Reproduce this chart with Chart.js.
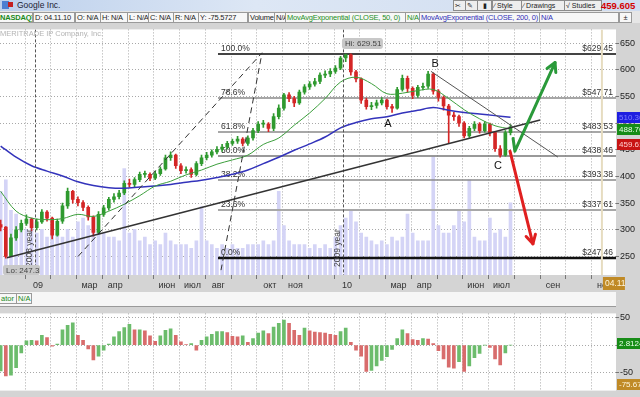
<!DOCTYPE html>
<html>
<head>
<meta charset="utf-8">
<script src="https://cdn.jsdelivr.net/npm/chart.js@4.4.0/dist/chart.umd.min.js"></script>
<style>
  body { margin: 0; width: 640px; height: 397px; overflow: hidden; background: #d4d4d4;
         font-family: "Liberation Sans", Arial, sans-serif; position: relative; }
  #title { position: absolute; left: 0; top: 0; width: 640px; height: 11px;
           background: linear-gradient(to right, #bcd0ec, #dde7f5 40%, #cfdcf0); font-size: 8.5px; line-height: 11px; }
  #title span, #hdr span, #oschdr span { position: absolute; white-space: nowrap; }
  .btn { top: 0; height: 9px; line-height: 9px; font-size: 7px; border: 1px solid #8c8c8c; background: #eeeeee;
         padding: 0 1px; color: #222; overflow: hidden; }
  #hdr { position: absolute; left: 0; top: 11px; width: 640px; height: 12px; background: #e6e6e6;
         font-size: 7.5px; letter-spacing: -0.2px; }
  .c { top: 1px; height: 9px; line-height: 9px; border: 1px solid #9a9a9a; background: #f7f7f7; padding: 0 1px;
       color: #222; overflow: hidden; }
  #copy { position: absolute; left: 0; top: 29px; font-size: 7.5px; color: #b4b4b4; white-space: nowrap; }
  #main { position: absolute; left: 0; top: 23px; }
  #oschdr { position: absolute; left: 0; top: 292px; width: 616px; height: 14px; background: #f6f6f6;
            border-bottom: 1px solid #9a9a9a; font-size: 7.5px; }
  #osc { position: absolute; left: 0; top: 307px; }
</style>
</head>
<body>
<div id="title">
  <span style="left:2px;top:1px;width:7px;height:8px;background:#4c7fd2"></span>
  <span style="left:8px;top:2px;width:5px;height:5px;background:#c42020"></span>
  <span style="left:17px;top:0;color:#223">Google Inc.</span>
  <span class="btn" style="left:453px;width:9px">&#9986;</span>
  <span class="btn" style="left:465px;width:9px">&#9998;</span>
  <span class="btn" style="left:477px;width:11px;text-align:center">&#9646;</span>
  <span class="btn" style="left:492px;width:26px">&#8725; Style</span>
  <span class="btn" style="left:521px;width:40px">&#8725; Drawings</span>
  <span class="btn" style="left:564px;width:34px">&#8730; Studies</span>
  <span style="left:601px;top:0;color:#d40000;font-weight:bold;font-size:9.5px">459.605</span>
</div>
<div id="hdr">
  <span class="c" style="left:-2px;width:31px;color:#1a8a1a;font-weight:bold">NASDAQ]</span>
  <span class="c" style="left:33px;width:38px">D: 04.11.10</span>
  <span class="c" style="left:75px;width:22px">O: N/A</span>
  <span class="c" style="left:100px;width:24px">H: N/A</span>
  <span class="c" style="left:127px;width:19px">L: N/A</span>
  <span class="c" style="left:148px;width:22px">C: N/A</span>
  <span class="c" style="left:173px;width:22px">R: N/A</span>
  <span class="c" style="left:198px;width:46px">Y: -75.5727</span>
  <span class="c" style="left:248px;width:23px">Volume</span>
  <span class="c" style="left:274px;width:8px">N/A</span>
  <span class="c" style="left:285px;width:117px;color:#239023">MovAvgExponential (CLOSE, 50, 0)</span>
  <span class="c" style="left:405px;width:11px;color:#239023">N/A</span>
  <span class="c" style="left:419px;width:117px;color:#3030b8">MovAvgExponential (CLOSE, 200, 0)</span>
  <span class="c" style="left:539px;width:76px;color:#3030b8">N/A</span>
  <span class="c" style="left:619px;width:9px;text-align:center">&#177;</span>
</div>
<canvas id="main" width="640" height="269"></canvas>
<div id="copy">MERITRADE IP Company, Inc.</div>
<div id="oschdr">
  <span class="c" style="left:-1px;width:14px;color:#1a8a1a">ator</span>
  <span class="c" style="left:16px;width:12px;color:#1a8a1a">N/A</span>
</div>
<canvas id="osc" width="640" height="90"></canvas>
<script>
// time axis: months counted from Jan 2009, one point every 0.2 month
const firstMonth = -1.45;
const monthStep = 0.2;
const xAt = i => firstMonth + i * monthStep;

const closes = [
  305, 250, 285, 300, 312, 320, 304, 315, 333, 322,
  290, 316, 345, 372, 357, 351, 342, 324, 295, 329,
  341, 357, 362, 369, 387, 385, 394, 404, 404, 397,
  405, 414, 435, 440, 420, 411, 413, 404, 424, 435,
  440, 446, 451, 455, 462, 466, 470, 462, 472, 486,
  498, 498, 490, 512, 528, 553, 546, 538, 558, 568,
  573, 578, 590, 592, 597, 603, 622, 628, 596, 583,
  543, 531, 533, 538, 543, 531, 528, 563, 584, 565,
  552, 567, 569, 592, 560, 548, 532, 515, 512, 500,
  476, 490, 498, 486, 498, 482, 452, 440, 482, 493
];
const highs = [
  318, 306, 292, 306, 318, 328, 322, 320, 338, 336,
  324, 320, 350, 378, 374, 362, 355, 345, 326, 334,
  346, 361, 368, 374, 392, 395, 398, 408, 410, 407,
  410, 418, 440, 446, 442, 424, 418, 416, 428, 440,
  445, 450, 456, 460, 466, 470, 475, 473, 476, 490,
  503, 505, 501, 518, 534, 556, 557, 550, 562, 572,
  578, 584, 594, 598, 602, 608, 625, 629.5, 630, 599,
  585, 547, 539, 543, 548, 545, 535, 567, 590, 588,
  568, 571, 575, 597, 594, 563, 551, 535, 520, 515,
  503, 494, 503, 501, 503, 500, 484, 458, 486, 497
];
const lows = [
  298, 247, 262, 280, 296, 308, 298, 300, 312, 316,
  283, 288, 312, 340, 350, 345, 336, 318, 288, 292,
  325, 337, 352, 358, 366, 380, 380, 390, 398, 392,
  394, 402, 412, 430, 415, 405, 406, 398, 401, 420,
  431, 436, 442, 447, 451, 458, 462, 457, 458, 468,
  482, 492, 484, 486, 508, 524, 540, 531, 535, 554,
  563, 569, 574, 585, 587, 593, 600, 615, 590, 577,
  537, 526, 525, 528, 534, 526, 520, 526, 560, 558,
  546, 548, 562, 565, 554, 541, 524, 462, 505, 494,
  472, 473, 486, 481, 483, 476, 447, 436, 438, 478
];
const firstOpen = 310;

const volume = [
  11, 12.5, 8.5, 8, 6.5, 6, 7.5, 5.5, 6, 5,
  6.5, 5.5, 5, 6, 5, 7, 7.5, 6.5, 7.5, 6,
  5.5, 5, 5, 4.5, 14, 5.5, 6, 4.5, 5, 4,
  4.5, 4, 5.5, 4.5, 4, 4, 4, 3.5, 4.5, 9,
  4.5, 4, 3.5, 4, 3.5, 4, 3.5, 3.5, 4, 4,
  4, 4.5, 4, 4.5, 11, 6.5, 4.5, 4, 4, 4,
  3.5, 4, 3.5, 4, 3.5, 5, 6.5, 7.5, 8.5, 7,
  5.5, 5, 4.5, 4, 4.5, 4, 5, 4.5, 5, 8,
  5.5, 4.5, 4.5, 4.5, 15.5, 6.5, 5.5, 5.5, 6.5, 8.5,
  7, 12.5, 5, 4.5, 4.5, 7.5, 5.5, 6, 5, 9.5
];

// moving averages, read every 3rd point
const ema50 = [372, 335, 322, 319, 321, 329, 325, 335, 348, 364, 382, 391, 403, 412, 423, 431, 440,
               460, 472, 496, 519, 546, 577, 586, 574, 555, 556, 561, 563, 546, 525, 508, 495, 489];
const ema200 = [457, 436, 420, 410, 401, 390, 383, 379, 378, 380, 382, 385, 389, 393, 398, 404, 412,
                424, 436, 449, 461, 474, 491, 501, 508, 512, 519, 524, 529, 524, 520, 517, 514, 511];

const oscillator = [
  -47, -56, -55, -41, -14, 8, 9, 8, 18, 14,
  -2, 2, 28, 36, 41, 18, 9, -7, -27, -20,
  -9, 2, 15, 25, 32, 38, 28, 28, 26, 17,
  7, 17, 27, 30, 18, 6, 1, 3, -9, 9,
  15, 20, 25, 25, 23, 16, 15, 17, 5, 12,
  22, 26, 21, 33, 40, 46, 40, 27, 18, 31,
  26, 24, 23, 22, 20, 18, 25, 31, 5, -9,
  -20, -48, -46, -38, -28, -21, -8, 12, 28, 21,
  10, 9, 12, 11, 3, -10, -25, -40, -42, -30,
  -48, -38, -23, -15, 0, -4, -25, -36, -14, 0
];

// month ticks from Dec 2008 (-1) to Nov 2010 (22)
const monthLabels = ['', '09', '', 'мар', 'апр', '', 'июн', 'июл', 'авг', '', 'окт', 'ноя',
                     '', '10', '', 'мар', 'апр', '', 'июн', 'июл', '', 'сен', '', 'ноя'];
const priceTicks = [250, 300, 350, 400, 450, 500, 550, 600, 650];
const oscTicks = [50, 0, -50];

const fibLevels = [629.45, 547.71, 483.53, 438.46, 393.38, 337.61, 247.46];
const fibNames = ['100.0%', '78.6%', '61.8%', '50.0%', '38.2%', '23.6%', '0.0%'];
const fibStartMonth = 6.99;

const xMin = -1.476, xMax = 22.447;
const GREEN = '#2f9a2f', RED = '#d42626';

const opens = closes.map((c, i) => i === 0 ? firstOpen : closes[i - 1]);
const candleColors = closes.map((c, i) => c >= opens[i] ? GREEN : RED);
const oscColors = oscillator.map((v, i) => (i === 0 || v >= oscillator[i - 1]) ? '#6cbc6c' : '#d86c6c');

function line(ctx, pts) {
  ctx.beginPath();
  pts.forEach((p, i) => i ? ctx.lineTo(p[0], p[1]) : ctx.moveTo(p[0], p[1]));
  ctx.stroke();
}

function arrow(ctx, pts, color) {
  ctx.strokeStyle = color;
  ctx.lineWidth = 3;
  ctx.lineCap = 'round';
  ctx.lineJoin = 'round';
  line(ctx, pts);
  const a = pts[pts.length - 2], b = pts[pts.length - 1];
  const ang = Math.atan2(b[1] - a[1], b[0] - a[0]);
  const h = 10;
  line(ctx, [[b[0] - h * Math.cos(ang - 0.5), b[1] - h * Math.sin(ang - 0.5)], b,
             [b[0] - h * Math.cos(ang + 0.5), b[1] - h * Math.sin(ang + 0.5)]]);
}

function tag(ctx, x, y, w, text, bg, fg) {
  ctx.fillStyle = bg;
  ctx.fillRect(x, Math.round(y - 5.5), w, 11);
  ctx.fillStyle = fg;
  ctx.font = '8px "Liberation Sans"';
  ctx.textAlign = 'left';
  ctx.textBaseline = 'middle';
  ctx.fillText(text, x + 2, y + 0.5);
}

const mainDecor = {
  id: 'mainDecor',
  beforeDraw(chart) {
    const { ctx, chartArea: a } = chart;
    ctx.save();
    ctx.fillStyle = '#d4d4d4';
    ctx.fillRect(0, 0, chart.width, chart.height);
    ctx.fillStyle = '#ffffff';
    ctx.fillRect(a.left, a.top, a.right - a.left, a.bottom - a.top);
    ctx.restore();
  },
  afterDatasetDraw(chart, args) {
    if (args.index !== 4) return;   // right after the volume bars
    const { ctx, chartArea: a, scales: { x, y } } = chart;
    ctx.save();
    const x0 = x.getPixelForValue(fibStartMonth);
    const fibColors = ['#444', '#8a8a8a', '#8a8a8a', '#777', '#8a8a8a', '#a8a8a8', '#111'];
    const fibWidths = [2, 1.5, 1.5, 1.5, 1.5, 2, 2.5];
    fibLevels.forEach((lvl, j) => {
      const py = Math.round(y.getPixelForValue(lvl));
      ctx.strokeStyle = fibColors[j];
      ctx.lineWidth = fibWidths[j];
      line(ctx, [[x0, py], [a.right, py]]);
      ctx.fillStyle = '#333';
      ctx.font = '8.5px "Liberation Sans"';
      ctx.textBaseline = 'bottom';
      ctx.textAlign = 'left';
      ctx.fillText(fibNames[j], x0 + 3, py - 1);
      ctx.textAlign = 'right';
      ctx.fillText('$' + lvl.toFixed(2), a.right - 3, py - 1);
    });
    ctx.restore();
  },
  afterDatasetsDraw(chart) {
    const { ctx, chartArea: a, scales: { x, y } } = chart;
    const P = (m, v) => [x.getPixelForValue(m), y.getPixelForValue(v)];
    ctx.save();
    ctx.beginPath();
    ctx.rect(a.left, a.top, a.right - a.left, a.bottom - a.top);
    ctx.clip();

    // year separators
    ctx.strokeStyle = '#555';
    ctx.lineWidth = 1;
    ctx.setLineDash([3, 2]);
    [[-0.12, '2008 year'], [11.84, '2009 year']].forEach(([m, t]) => {
      const px = Math.round(x.getPixelForValue(m)) + 0.5;
      line(ctx, [[px, a.top], [px, a.bottom]]);
      ctx.save();
      ctx.translate(px - 2, a.bottom - 8);
      ctx.rotate(-Math.PI / 2);
      ctx.fillStyle = '#444';
      ctx.font = '8.5px "Liberation Sans"';
      ctx.textAlign = 'left';
      ctx.textBaseline = 'bottom';
      ctx.fillText(t, 0, 0);
      ctx.restore();
    });

    // fibonacci fan legs
    ctx.strokeStyle = '#333';
    ctx.setLineDash([6, 4]);
    line(ctx, [P(1.553, 250), P(8.70, 631.7), P(7.107, 224.4)]);
    ctx.setLineDash([]);

    // trend lines
    ctx.strokeStyle = '#333';
    ctx.lineWidth = 1.5;
    line(ctx, [P(-1.204, 247.5), P(19.5, 505.7)]);
    ctx.strokeStyle = '#555';
    ctx.lineWidth = 1;
    line(ctx, [P(15.26, 597), P(20.19, 436.3)]);

    // cursor
    ctx.strokeStyle = '#e6dcc0';
    ctx.lineWidth = 2;
    const cx = x.getPixelForValue(21.9);
    line(ctx, [[cx, a.top], [cx, a.bottom]]);

    // projection arrows
    arrow(ctx, [P(18.45, 471), P(18.52, 447.3), P(20.08, 613.5)], '#2a9a3a');
    arrow(ctx, [P(18.33, 447.3), P(19.22, 273.7)], '#e02020');

    // wave labels
    ctx.fillStyle = '#111';
    ctx.font = '11px "Liberation Sans"';
    ctx.textAlign = 'center';
    ctx.textBaseline = 'middle';
    [['A', 13.59, 498], ['B', 15.42, 611.6], ['C', 17.86, 420]].forEach(([t, m, v]) => {
      const p = P(m, v);
      ctx.fillText(t, p[0], p[1]);
    });

    // hi / lo callouts
    ctx.font = '8px "Liberation Sans"';
    ctx.textAlign = 'left';
    const hi = P(11.92, 629.51);
    ctx.fillStyle = '#c8c8c8';
    ctx.beginPath();
    ctx.roundRect(hi[0] - 3, hi[1] - 16, 41, 11, 3);
    ctx.fill();
    ctx.fillStyle = '#444';
    ctx.fillText('Hi: 629.51', hi[0], hi[1] - 10);
    const lo = P(-1.204, 247.3);
    ctx.fillStyle = '#c8c8c8';
    ctx.beginPath();
    ctx.roundRect(lo[0] - 4, lo[1] + 7, 37, 10, 2);
    ctx.fill();
    ctx.fillStyle = '#444';
    ctx.fillText('Lo: 247.3', lo[0] - 1, lo[1] + 12.5);
    ctx.restore();
  },
  afterDraw(chart) {
    const { ctx, chartArea: a, scales: { y, x } } = chart;
    ctx.save();
    tag(ctx, a.right + 1, y.getPixelForValue(510.3), 23, '510.36', '#1e1ee0', '#7d7dff');
    tag(ctx, a.right + 1, y.getPixelForValue(488.76), 23, '488.76', '#178c17', '#e8ffe8');
    tag(ctx, a.right + 1, y.getPixelForValue(459.61), 23, '459.61', '#c81414', '#ffd0d0');
    const cx = x.getPixelForValue(21.9);
    ctx.fillStyle = '#c08a26';
    ctx.fillRect(cx + 1, a.bottom + 2, 22, 13);
    ctx.fillStyle = '#fff6dd';
    ctx.font = '8.5px "Liberation Sans"';
    ctx.textBaseline = 'middle';
    ctx.fillText('04.11', cx + 3, a.bottom + 9);
    ctx.restore();
  }
};

const monthScale = {
  type: 'linear', min: xMin, max: xMax, offset: false,
  afterBuildTicks: s => { s.ticks = monthLabels.map((l, j) => ({ value: j - 1 })); }
};

new Chart(document.getElementById('main'), {
  type: 'bar',
  data: {
    datasets: [
      { type: 'line', label: 'EMA 50', data: ema50.map((v, k) => ({ x: xAt(k * 3), y: v })),
        borderColor: '#3d9f3d', borderWidth: 1, pointRadius: 0, tension: 0.35, order: 1 },
      { type: 'line', label: 'EMA 200', data: ema200.map((v, k) => ({ x: xAt(k * 3), y: v })),
        borderColor: '#3333bb', borderWidth: 1.5, pointRadius: 0, tension: 0.35, order: 2 },
      { type: 'bar', label: 'Price', data: closes.map((c, i) => ({ x: xAt(i), y: [opens[i], c] })),
        backgroundColor: candleColors, barThickness: 3, minBarLength: 1, grouped: false, order: 3 },
      { type: 'bar', label: 'Range', data: closes.map((c, i) => ({ x: xAt(i), y: [lows[i], highs[i]] })),
        backgroundColor: candleColors, barThickness: 1, grouped: false, order: 4 },
      { type: 'bar', label: 'Volume', yAxisID: 'vol', data: volume.map((v, i) => ({ x: xAt(i), y: v })),
        backgroundColor: '#d4d4f6', barThickness: 3, grouped: false, order: 5 }
    ]
  },
  options: {
    responsive: false,
    animation: false,
    layout: { padding: 0 },
    plugins: { legend: { display: false }, tooltip: { enabled: false } },
    scales: {
      x: Object.assign({}, monthScale, {
        afterFit: s => { s.height = 17; },
        grid: { color: '#a8a8a8', tickLength: 4, tickColor: '#777' },
        border: { display: false, dash: [1, 2] },
        ticks: { font: { size: 9, family: 'Liberation Sans' }, color: '#333', padding: 1, maxRotation: 0,
                 autoSkip: false, callback: v => monthLabels[Math.round(v) + 1] }
      }),
      y: {
        position: 'right', min: 215.3, max: 675.6,
        afterBuildTicks: s => { s.ticks = priceTicks.map(v => ({ value: v })); },
        afterFit: s => { s.width = 24; },
        grid: { color: '#a8a8a8', tickLength: 3, tickColor: '#777' },
        border: { display: false, dash: [1, 2] },
        ticks: { font: { size: 9, family: 'Liberation Sans' }, color: '#222', padding: 1 }
      },
      vol: { display: false, min: 0, max: 32.3 }
    }
  },
  plugins: [mainDecor]
});

const oscDecor = {
  id: 'oscDecor',
  beforeDraw(chart) {
    const { ctx, chartArea: a } = chart;
    ctx.save();
    ctx.fillStyle = '#d4d4d4';
    ctx.fillRect(0, 0, chart.width, chart.height);
    ctx.fillStyle = '#ffffff';
    ctx.fillRect(a.left, a.top, a.right - a.left, a.bottom - a.top);
    ctx.restore();
  },
  afterDraw(chart) {
    const { ctx, chartArea: a, scales: { y } } = chart;
    ctx.save();
    tag(ctx, a.right + 1, y.getPixelForValue(2.8124), 23, '2.8124', '#178c17', '#e8ffe8');
    tag(ctx, a.right + 1, Math.min(y.getPixelForValue(-75.67), a.bottom - 6), 23, '-75.67', '#c08a26', '#fff6dd');
    ctx.restore();
  }
};

new Chart(document.getElementById('osc'), {
  type: 'bar',
  data: {
    datasets: [{ label: 'Oscillator', data: oscillator.map((v, i) => ({ x: xAt(i), y: v })),
                 backgroundColor: oscColors, barThickness: 3 }]
  },
  options: {
    responsive: false,
    animation: false,
    layout: { padding: 0 },
    plugins: { legend: { display: false }, tooltip: { enabled: false } },
    scales: {
      x: Object.assign({}, monthScale, {
        afterFit: s => { s.height = 0; },
        grid: { color: '#a8a8a8', drawTicks: false },
        border: { display: false, dash: [1, 2] },
        ticks: { display: false }
      }),
      y: {
        position: 'right', min: -83, max: 58,
        afterBuildTicks: s => { s.ticks = oscTicks.map(v => ({ value: v })); },
        afterFit: s => { s.width = 24; },
        grid: { color: '#a8a8a8', tickLength: 3, tickColor: '#777' },
        border: { display: false, dash: [1, 2] },
        ticks: { font: { size: 9, family: 'Liberation Sans' }, color: '#222', padding: 1 }
      }
    }
  },
  plugins: [oscDecor]
});
</script>
</body>
</html>
